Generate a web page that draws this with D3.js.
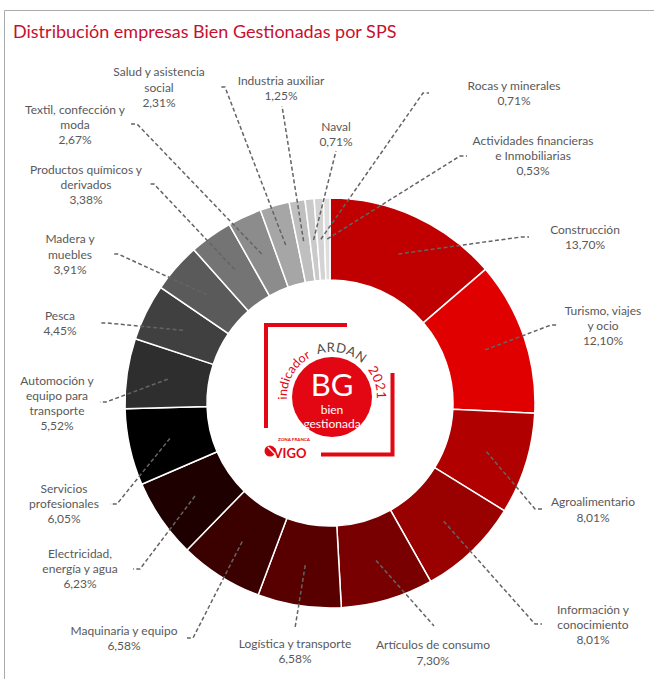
<!DOCTYPE html>
<html>
<head>
<meta charset="utf-8">
<script src="https://cdn.jsdelivr.net/npm/d3@7"></script>
<style>
  body { margin: 0; background: #fff; }
  svg { display: block; font-family: Lato, "Open Sans", sans-serif; }
</style>
</head>
<body>
<svg id="chart" width="654" height="679"></svg>
<script>
// data
const sectors = ["Construcción", "Turismo, viajes y ocio", "Agroalimentario", "Información y conocimiento",
  "Artículos de consumo", "Logística y transporte", "Maquinaria y equipo", "Electricidad, energía y agua",
  "Servicios profesionales", "Automoción y equipo para transporte", "Pesca", "Madera y muebles",
  "Productos químicos y derivados", "Textil, confección y moda", "Salud y asistencia social",
  "Industria auxiliar", "Naval", "Rocas y minerales", "Actividades financieras e Inmobiliarias"];
const shares = [13.70, 12.10, 8.01, 8.01, 7.30, 6.58, 6.58, 6.23, 6.05, 5.52, 4.45, 3.91, 3.38, 2.67, 2.31, 1.25, 0.71, 0.71, 0.53];

// styling / layout
const colors = ["#C00000", "#E00000", "#B00000", "#990000", "#780000", "#580000", "#3B0000", "#1F0000", "#000000",
  "#2E2E2E", "#404040", "#5A5A5A", "#747474", "#8C8C8C", "#A6A6A6", "#BFBFBF", "#CACACA", "#D3D3D3", "#DEDEDE"];
// words per line for each label
const wrap = [[1], [2, 2], [1], [2, 1], [3], [3], [3], [1, 3], [1, 1], [2, 2, 1], [1], [2, 1], [3, 1], [3, 1], [3, 1], [2], [1], [3], [2, 2]];
// label centre x, centre y, leader knee x, knee y, stub end x
const labelPos = [
  [585, 237.5, 521, 237, 529], [603, 326, 551, 325, 557], [593, 510, 535, 509, 542], [593, 625, 535, 624, 542],
  [433, 653, 434, 626, 434], [295, 651.5, 295, 628, 295], [124, 638.5, 193, 638, 187], [80, 569, 140, 569, 133],
  [64, 504, 117, 504, 110], [57, 403.5, 106, 402, 100], [60, 323.5, 107, 323, 99], [70, 254.5, 118, 254, 112],
  [86, 185, 154, 184, 148], [75, 125, 137, 124, 131], [159, 87.5, 225, 87, 219], [281, 88.5, 282, 106, 282],
  [336, 134.5, 336, 151, 336], [514, 93.5, 423, 93, 429], [533, 156, 460, 156, 467]
];

const svg = d3.select("#chart");
const cx = 330, cy = 403, rOut = 205, rIn = 123;
const red = "#E30613";

// frame
svg.append("path").attr("d", "M4.5,679V10.5H654")
  .attr("fill", "none").attr("stroke", "#ababab").attr("stroke-width", 1);

svg.append("text").attr("x", 13).attr("y", 38)
  .attr("fill", "#C8102E").attr("font-size", 18)
  .text("Distribución empresas Bien Gestionadas por SPS");

const color = d3.scaleOrdinal().domain(sectors).range(colors);
const pie = d3.pie().sort(null).value(d => d.v);
const arc = d3.arc().innerRadius(rIn).outerRadius(rOut);
const arcs = pie(sectors.map((s, i) => ({ name: s, v: shares[i], i: i })));

const g = svg.append("g").attr("transform", `translate(${cx},${cy})`);
g.selectAll("path.slice").data(arcs).enter().append("path")
  .attr("class", "slice")
  .attr("d", arc)
  .attr("fill", d => color(d.data.name))
  .attr("stroke", "#fff").attr("stroke-width", 1.5);

// leader lines
const fmt = d3.format(".2f");
const line = d3.line();
svg.append("g").selectAll("path").data(arcs).enter().append("path")
  .attr("d", d => {
    const c = arc.centroid(d);
    const p = labelPos[d.data.i];
    return line([[cx + c[0], cy + c[1]], [p[2], p[3]], [p[4], p[3]]]);
  })
  .attr("fill", "none").attr("stroke", "#646464").attr("stroke-width", 1.5)
  .attr("stroke-dasharray", "4,2.5");

// labels
const lh = 15.3;
const lab = svg.append("g").attr("fill", "#595959").attr("font-size", 12).attr("text-anchor", "middle");
arcs.forEach(d => {
  const i = d.data.i, p = labelPos[i];
  const words = sectors[i].split(" ");
  const rows = [];
  let k = 0;
  wrap[i].forEach(n => { rows.push(words.slice(k, k + n).join(" ")); k += n; });
  rows.push(fmt(shares[i]).replace(".", ",") + "%");
  const y0 = p[1] - (rows.length - 1) * lh / 2;
  const t = lab.append("text");
  rows.forEach((r, j) => {
    t.append("tspan").attr("x", p[0]).attr("y", y0 + j * lh + 4).text(r);
  });
});

// centre badge
const b = svg.append("g").attr("transform", `translate(${cx + 2},${cy - 6})`);
b.append("path").attr("d", "M-66,31V-72H15").attr("fill", "none").attr("stroke", red).attr("stroke-width", 4);
b.append("path").attr("d", "M-11,57.5H60.5V-24").attr("fill", "none").attr("stroke", red).attr("stroke-width", 4);
b.append("circle").attr("r", 40).attr("fill", red);
b.append("text").attr("y", -1).attr("text-anchor", "middle").attr("fill", "#fff")
  .attr("font-size", 31).text("BG");
b.append("text").attr("y", 17).attr("text-anchor", "middle").attr("fill", "#fff")
  .attr("font-size", 12).text("bien");
b.append("text").attr("y", 31).attr("text-anchor", "middle").attr("fill", "#fff")
  .attr("font-size", 12).text("gestionada");

// curved badge text
const rr = 45, a0 = -110 * Math.PI / 180, a1 = 110 * Math.PI / 180;
const pt = a => [rr * Math.sin(a), -rr * Math.cos(a)];
const s = pt(a0), e = pt(a1);
b.append("path").attr("id", "ring").attr("fill", "none")
  .attr("d", `M${s[0]},${s[1]}A${rr},${rr} 0 1 1 ${e[0]},${e[1]}`);
const off = deg => (deg + 110) * Math.PI / 180 * rr;
[["indicador", -93, red, 12.5, 0], ["ARDAN", -19, "#4d4d4d", 13, 0.6], ["2021", 52, red, 13, 0.4]].forEach(w => {
  b.append("text").attr("fill", w[2]).attr("font-size", w[3]).attr("letter-spacing", w[4])
    .append("textPath").attr("href", "#ring").attr("startOffset", off(w[1])).text(w[0]);
});

// zona franca vigo mark
b.append("circle").attr("cx", -62).attr("cy", 54).attr("r", 5.5).attr("fill", red);
b.append("path").attr("d", "M-64,50 L-57,57").attr("stroke", "#fff").attr("stroke-width", 1.5);
b.append("text").attr("x", -38).attr("y", 44).attr("text-anchor", "middle").attr("fill", red)
  .attr("font-size", 4.5).attr("font-weight", "bold").text("ZONA FRANCA");
b.append("text").attr("x", -42).attr("y", 61).attr("text-anchor", "middle").attr("fill", red)
  .attr("font-size", 13).attr("font-weight", "bold").text("VIGO");
</script>
</body>
</html>
